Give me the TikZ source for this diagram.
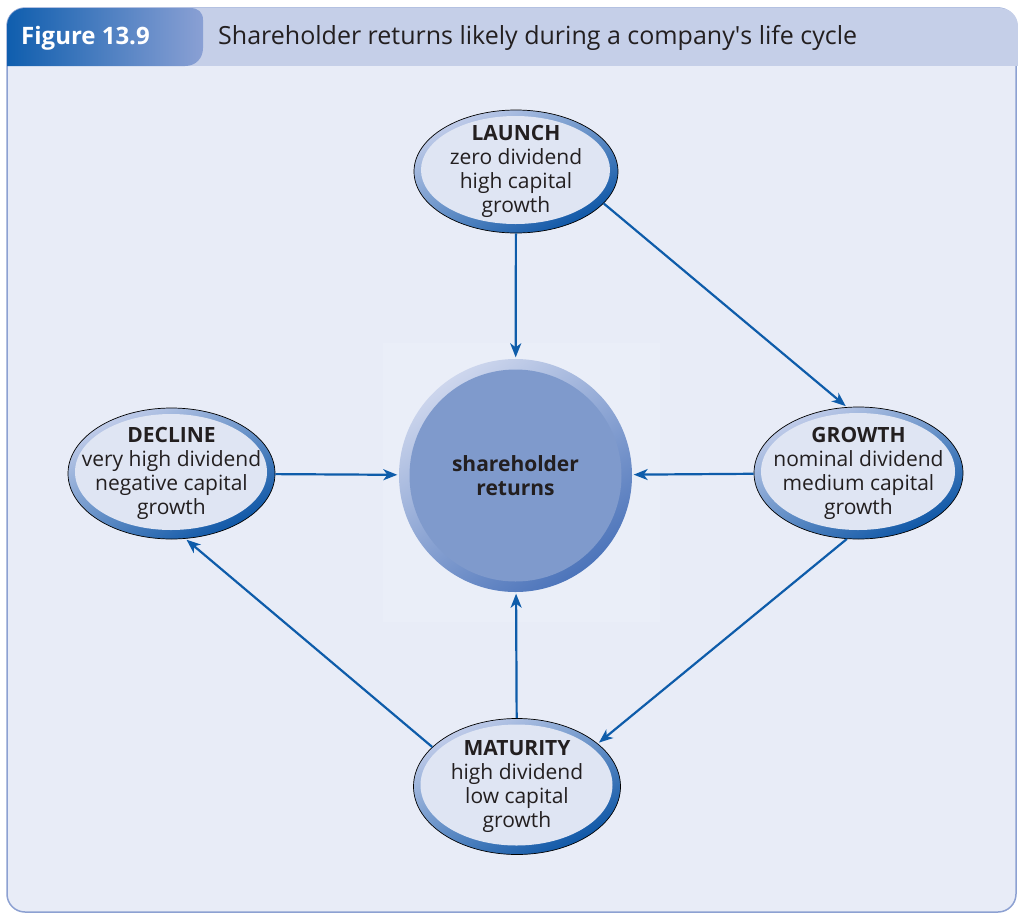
\documentclass[tikz,border=0pt]{standalone}
\usepackage{fontspec}
\setmainfont{Open Sans}
\usetikzlibrary{shapes.geometric,arrows.meta}
\definecolor{panel}{HTML}{E8ECF7}
\definecolor{panelborder}{HTML}{8DA1D2}
\definecolor{header}{HTML}{C5CFE8}
\definecolor{tabdark}{HTML}{0F5EAE}
\definecolor{tablight}{HTML}{8AA0D4}
\definecolor{arrowc}{HTML}{0E5CAA}
\definecolor{ringlight}{HTML}{C2CDEA}
\definecolor{ringdark}{HTML}{0D56A6}
\definecolor{innerfill}{HTML}{DFE5F3}
\definecolor{circlering1}{HTML}{CDD6ED}
\definecolor{circlering2}{HTML}{4C74BA}
\definecolor{circlefill}{HTML}{7F9ACC}
\definecolor{squarefill}{HTML}{EAEEF8}
\definecolor{txt}{HTML}{231F20}
\tikzset{
  stage/.style={ellipse, inner sep=-30pt,
    draw=black, line width=0.7pt, shading=axis, top color=ringlight,
    bottom color=ringdark, shading angle=28,
    align=center, text=txt, font=\fontsize{21}{24}\selectfont},
  inring/.style 2 args={path picture={\fill[innerfill] ([xshift=-0.5pt,yshift=1.5pt]path picture bounding box.center) ellipse [x radius=#1, y radius=#2];}},
  hub/.style={circle, minimum size=233, inner sep=0pt, shading=axis,
    top color=circlering1, bottom color=circlering2, shading angle=35,
    path picture={\fill[circlefill] (path picture bounding box.center) circle [radius=106];},
    align=center, text=txt, font=\fontsize{21}{24}\selectfont\bfseries},
  arr/.style={draw=arrowc, line width=2.2pt, -{Stealth[length=14pt,width=11pt,inset=4pt]}, shorten >=1.5pt},
  headtxt/.style={anchor=west, inner sep=0pt, text=txt, font=\fontsize{25}{29}\selectfont},
  tabtxt/.style={anchor=west, inner sep=0pt, text=white, font=\fontsize{24}{28}\selectfont\bfseries}
}
\begin{document}
\begin{tikzpicture}[x=1pt,y=-1pt]
\useasboundingbox (0,0) rectangle (1018,914);
\fill[white] (0,0) rectangle (1018,914);
% panel
\draw[panelborder, line width=1.5pt, fill=panel, rounded corners=18pt] (7,8) rectangle (1016,912);
\begin{scope}
  \clip[rounded corners=18pt] (7,8) rectangle (1018,912);
  \fill[header] (7,8) rectangle (1018,66);
  \shade[left color=tabdark, right color=tablight]
    (7,8) -- (190,8) .. controls (198,8) and (203,12) .. (203,20)
    -- (203,48) .. controls (203,58) and (196,66) .. (185,66) -- (7,66) -- cycle;
\end{scope}
\node[tabtxt] (fig) at (21,38) {Figure 13.9};
\node[headtxt] (title) at (218,38) {Shareholder returns likely during a company\textquotesingle s life cycle};
% faint square behind hub
\fill[squarefill] (383,343) rectangle (660,622);
% nodes
\node[hub] (ret) at (515.5,475.5) {shareholder\\returns};
\node[stage, minimum width=204, minimum height=123, inring={94.5}{54}] (launch) at (516,171.5) {\textbf{LAUNCH}\\zero dividend\\high capital\\growth};
\node[stage, minimum width=209, minimum height=132, inring={97}{58.5}] (growth) at (858.5,473) {\textbf{GROWTH}\\nominal dividend\\medium capital\\growth};
\node[stage, minimum width=207, minimum height=131, inring={96}{58}] (decline) at (171.5,473.5) {\textbf{DECLINE}\\very high dividend\\negative capital\\growth};
\node[stage, minimum width=207, minimum height=136, inring={96}{60.5}] (maturity) at (517,786.5) {\textbf{MATURITY}\\high dividend\\low capital\\growth};
% connectors
\draw[arr] (launch) -- (ret);
\draw[arr] (launch.-20) -- (growth.100);
\draw[arr] (growth) -- (ret);
\draw[arr] (growth.-100) -- (maturity.28);
\draw[arr] (maturity) -- (ret);
\draw[arr] (maturity.155) -- (decline.-78);
\draw[arr] (decline) -- (ret);
\end{tikzpicture}
\end{document}
